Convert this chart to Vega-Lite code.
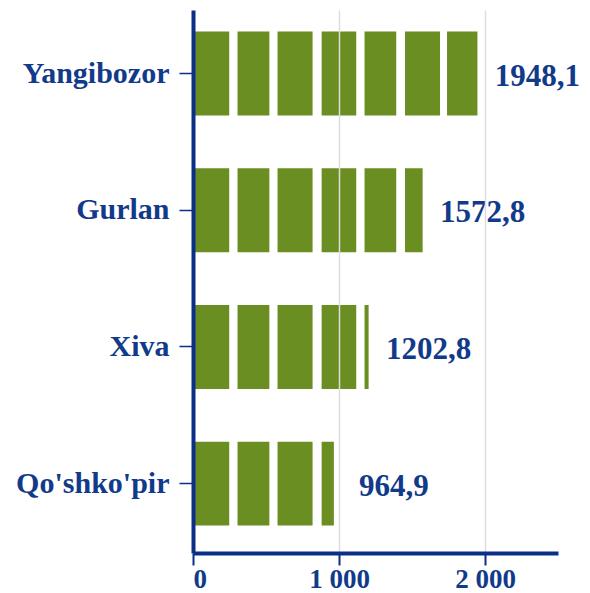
{
  "$schema": "https://vega.github.io/schema/vega-lite/v6.json",
  "autosize": "none",
  "width": 365,
  "height": 543,
  "padding": {"left": 193, "top": 10, "right": 32, "bottom": 40},
  "background": "white",
  "config": {
    "view": {"stroke": null},
    "locale": {"number": {"decimal": ",", "thousands": " ", "grouping": [3], "currency": ["", ""]}},
    "font": "Liberation Serif"
  },
  "datasets": {
    "regions": [
      {"region": "Yangibozor", "value": 1948.1},
      {"region": "Gurlan", "value": 1572.8},
      {"region": "Xiva", "value": 1202.8},
      {"region": "Qo'shko'pir", "value": 964.9}
    ],
    "stripes": [
      {"start": 248, "end": 305},
      {"start": 523, "end": 579},
      {"start": 819, "end": 881},
      {"start": 1118, "end": 1175},
      {"start": 1392, "end": 1452},
      {"start": 1692, "end": 1740}
    ]
  },
  "layer": [
    {
      "data": {"name": "regions"},
      "mark": {"type": "bar", "color": "#6B8E23"},
      "encoding": {
        "y": {
          "field": "region", "type": "nominal",
          "sort": ["Yangibozor", "Gurlan", "Xiva", "Qo'shko'pir"],
          "scale": {"paddingInner": 0.386, "paddingOuter": 0.179, "align": 0.44},
          "axis": {
            "title": null, "zindex": 1,
            "domainColor": "#0B2F86", "domainWidth": 4,
            "tickColor": "#0B2F86", "tickWidth": 1.5, "tickSize": 14,
            "labelFont": "Liberation Serif", "labelFontSize": 30, "labelFontWeight": "bold",
            "labelColor": "#123A8A", "labelPadding": 10
          }
        },
        "x": {
          "field": "value", "type": "quantitative",
          "scale": {"domain": [0, 2500], "nice": false},
          "axis": {
            "title": null, "zindex": 1, "values": [0, 1000, 2000],
            "labelExpr": "datum.value == 0 ? '0' : (datum.value / 1000) + ' 000'",
            "domainColor": "#0B2F86", "domainWidth": 4,
            "tickColor": "#0B2F86", "tickWidth": 2, "tickSize": 12,
            "grid": true, "gridColor": "#dddddd", "gridWidth": 1.5,
            "labelFont": "Liberation Serif", "labelFontSize": 27, "labelFontWeight": "bold",
            "labelColor": "#123A8A", "labelPadding": 1
          }
        }
      }
    },
    {
      "data": {"name": "stripes"},
      "mark": {"type": "rect", "color": "white"},
      "encoding": {
        "x": {"field": "start", "type": "quantitative"},
        "x2": {"field": "end"}
      }
    },
    {
      "data": {"name": "regions"},
      "mark": {"type": "text", "align": "center", "baseline": "middle", "dx": 60, "dy": 3,
               "font": "Liberation Serif", "fontSize": 31, "fontWeight": "bold", "color": "#123A8A"},
      "encoding": {
        "y": {"field": "region", "type": "nominal", "sort": ["Yangibozor", "Gurlan", "Xiva", "Qo'shko'pir"]},
        "x": {"field": "value", "type": "quantitative"},
        "text": {"field": "value", "type": "quantitative", "format": ".1f"}
      }
    }
  ]
}
